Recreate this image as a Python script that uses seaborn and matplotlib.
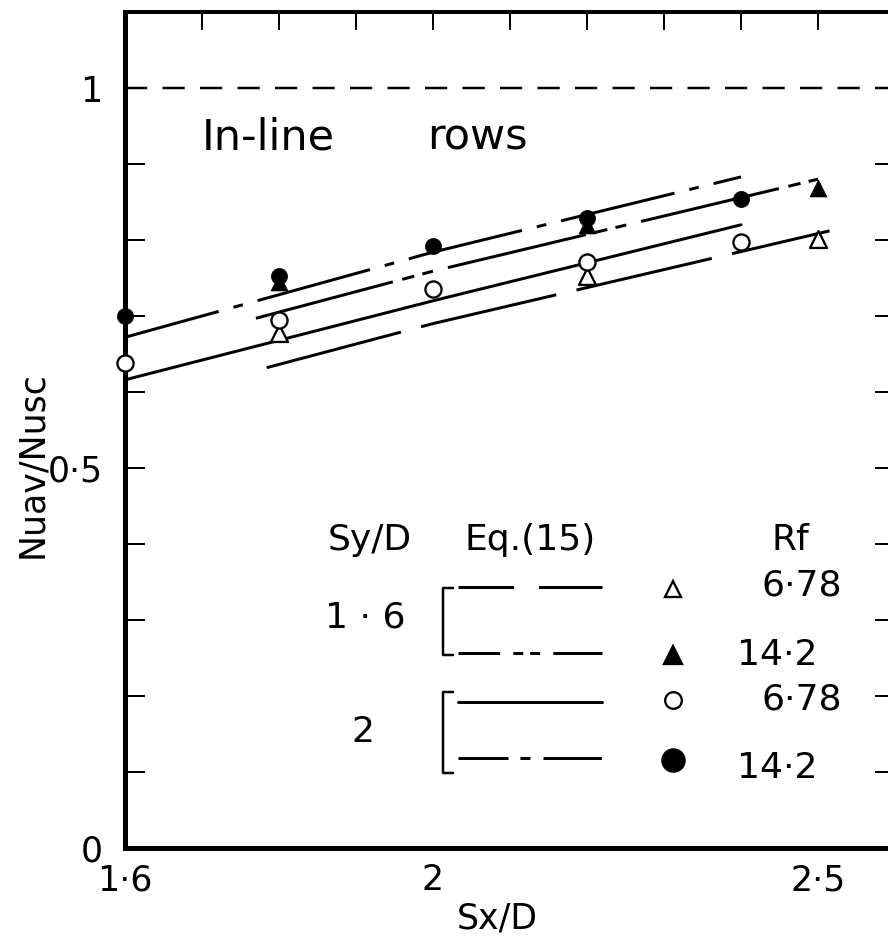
import matplotlib
matplotlib.use("Agg")
import matplotlib.pyplot as plt
import seaborn as sns
import pandas as pd

# ---------------- data ----------------
sx_circles = [1.6, 1.8, 2.0, 2.2, 2.4]
nu_sy2_rf678 = [0.638, 0.695, 0.736, 0.771, 0.797]     # open circles
nu_sy2_rf142 = [0.700, 0.753, 0.792, 0.829, 0.854]     # filled circles
sx_triangles = [1.8, 2.2, 2.5]
nu_sy16_rf678 = [0.678, 0.752, 0.801]                  # open triangles
nu_sy16_rf142 = [0.745, 0.820, 0.868]                  # filled triangles

# Eq.(15) curves
eq_sy2_rf678_x = [1.6, 2.0, 2.4]
eq_sy2_rf678_y = [0.616, 0.720, 0.820]
eq_sy2_rf142_x = [1.6, 2.0, 2.4]
eq_sy2_rf142_y = [0.672, 0.784, 0.883]
eq_sy16_rf678_x = [1.784, 2.0, 2.515]
eq_sy16_rf678_y = [0.632, 0.690, 0.812]
eq_sy16_rf142_x = [1.77, 2.0, 2.5]
eq_sy16_rf142_y = [0.697, 0.759, 0.880]

reference_y = 1.0

x_major = [1.6, 2.0, 2.5]
x_major_labels = ["1·6", "2", "2·5"]
x_minor = [1.7, 1.8, 1.9, 2.1, 2.2, 2.3, 2.4]
y_major = [0.0, 0.5, 1.0]
y_major_labels = ["0", "0·5", "1"]
y_minor = [0.1, 0.2, 0.3, 0.4, 0.6, 0.7, 0.8, 0.9]
top_ticks = [1.7, 1.8, 1.9, 2.0, 2.1, 2.2, 2.3, 2.4, 2.5]

legend_sy = ["1 · 6", "2"]
legend_rf = ["6·78", "14·2", "6·78", "14·2"]

# ---------------- style ----------------
sns.set_style("white")
plt.rcParams["font.family"] = ["DejaVu Sans"]
plt.rcParams["lines.scale_dashes"] = False
for k in ["text.color", "axes.labelcolor", "xtick.color", "ytick.color", "axes.edgecolor"]:
    plt.rcParams[k] = "black"

W, H = 888, 949
fig = plt.figure(figsize=(W / 100, H / 100), dpi=100)
ax = fig.add_axes([125 / W, 101 / H, 770 / W, 836 / H])
ax.set_xlim(1.6, 2.6)
ax.set_ylim(0, 1.1)

px = 0.72  # points per pixel

# spines
for s, lw in [("left", 5), ("bottom", 5), ("top", 4)]:
    ax.spines[s].set_linewidth(lw * px)
    ax.spines[s].set_color("black")
ax.spines["right"].set_visible(False)

# ticks
ax.set_xticks(x_major)
ax.set_xticklabels(x_major_labels)
ax.set_xticks(x_minor, minor=True)
ax.set_yticks(y_major)
ax.set_yticklabels(y_major_labels)
ax.set_yticks(y_minor, minor=True)
ax.tick_params(axis="x", which="major", direction="in", length=27 * px, width=2 * px,
               labelsize=25, pad=11, top=False, colors="black")
ax.tick_params(axis="x", which="minor", direction="in", length=19 * px, width=2 * px,
               top=False, colors="black")
ax.tick_params(axis="y", which="both", direction="in", length=20 * px, width=2 * px,
               left=True, right=True, colors="black")
ax.tick_params(axis="y", which="major", labelsize=25, pad=16)

sec = ax.secondary_xaxis("top")
sec.set_xticks(top_ticks)
sec.tick_params(direction="in", length=18 * px, width=2 * px, labeltop=False, colors="black")
sec.spines["top"].set_visible(False)

# reference line at 1
ax.axhline(reference_y, color="black", lw=2.5 * px, linestyle=(0, (16, 11)), zorder=2)

# ---------------- Eq.(15) curves ----------------
lw = 3 * px
sns.lineplot(x=eq_sy2_rf678_x, y=eq_sy2_rf678_y, ax=ax, color="black", lw=lw,
             linestyle="-", zorder=3)
sns.lineplot(x=eq_sy2_rf142_x, y=eq_sy2_rf142_y, ax=ax, color="black", lw=lw,
             linestyle=(14, (84, 11, 7, 11)), zorder=3)
sns.lineplot(x=eq_sy16_rf678_x, y=eq_sy16_rf678_y, ax=ax, color="black", lw=lw,
             linestyle=(0, (100, 15)), zorder=3)
sns.lineplot(x=eq_sy16_rf142_x, y=eq_sy16_rf142_y, ax=ax, color="black", lw=lw,
             linestyle=(0, (102, 7, 9, 6, 8, 11)), zorder=3)

# ---------------- data points ----------------
ms = 135
ew = 2.3 * px
sns.scatterplot(x=sx_triangles, y=nu_sy16_rf142, ax=ax, marker="^", s=ms * 1.1,
                color="black", edgecolor="black", linewidth=0.5, zorder=5, clip_on=False)
sns.scatterplot(x=sx_circles, y=nu_sy2_rf142, ax=ax, marker="o", s=ms,
                color="black", edgecolor="black", linewidth=0.5, zorder=6, clip_on=False)
sns.scatterplot(x=sx_triangles, y=nu_sy16_rf678, ax=ax, marker="^", s=ms * 1.1,
                color="white", edgecolor="black", linewidth=ew, zorder=5, clip_on=False)
sns.scatterplot(x=sx_circles, y=nu_sy2_rf678, ax=ax, marker="o", s=ms,
                color="white", edgecolor="black", linewidth=ew, zorder=6, clip_on=False)

# ---------------- annotations ----------------
def dx(p):
    return 1.6 + (p - 125) / 770.0

def dy(p):
    return (848 - p) / 760.0

ax.text(dx(202), dy(150), "In-line", fontsize=31, va="baseline", ha="left")
ax.text(dx(427), dy(150), "rows", fontsize=31, va="baseline", ha="left")

fs = 26
ax.text(dx(370), dy(540), "Sy/D", fontsize=fs, ha="center", va="center")
ax.text(dx(530), dy(540), "Eq.(15)", fontsize=fs, ha="center", va="center")
ax.text(dx(790), dy(540), "Rf", fontsize=fs, ha="center", va="center")
ax.text(dx(365), dy(617), legend_sy[0], fontsize=fs, ha="center", va="center")
ax.text(dx(363), dy(732), legend_sy[1], fontsize=fs, ha="center", va="center")

# brackets
for top, bot in [(588, 655), (692, 773)]:
    ax.plot([dx(453), dx(443), dx(443), dx(453)], [dy(top), dy(top), dy(bot), dy(bot)],
            color="black", lw=2.5 * px)

# legend line samples
sample_styles = [(0, (40, 18, 46, 18)), (0, (30, 9.4, 7.2, 5, 7.2, 9.4, 40, 10)),
                 "-", (0, (36, 8.6, 7.2, 9.4, 42, 10))]
sample_y = [587, 653, 702, 758]
for st, yy in zip(sample_styles, sample_y):
    ax.plot([dx(458), dx(602)], [dy(yy), dy(yy)], color="black", lw=lw, linestyle=st)

# legend markers
mk = [("^", "white", 11), ("^", "black", 13), ("o", "white", 12), ("o", "black", 16)]
mk_y = [589, 655, 700, 760]
for (m, fc, size), yy in zip(mk, mk_y):
    ax.plot([dx(673)], [dy(yy)], marker=m, ms=size, mfc=fc, mec="black",
            mew=2.3 * px, ls="none")

rf_x = [762, 737, 762, 737]
rf_y = [585, 655, 700, 768]
for lab, xx, yy in zip(legend_rf, rf_x, rf_y):
    ax.text(dx(xx), dy(yy), lab, fontsize=fs, ha="left", va="center")

# axis labels
fig.text(32 / W, 1 - 465 / H, "Nuav/Nusc", rotation=90, fontsize=25, ha="center", va="center")
fig.text(497 / W, 1 - 918 / H, "Sx/D", fontsize=25, ha="center", va="center")

fig.savefig("out.png", dpi=100)
